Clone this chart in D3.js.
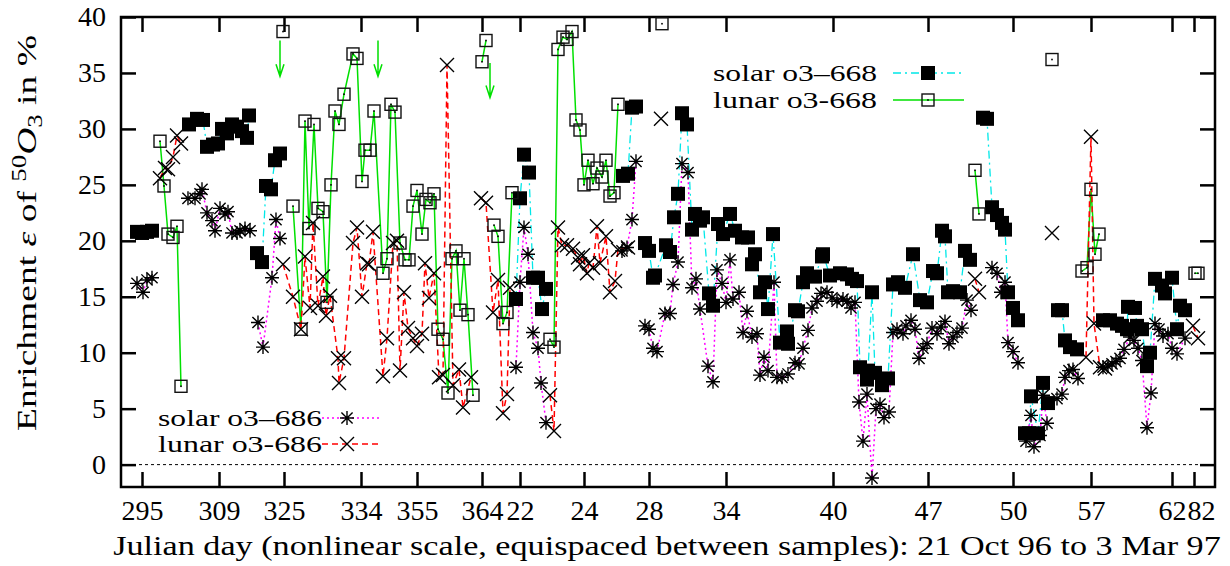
<!DOCTYPE html>
<html>
<head>
<meta charset="utf-8">
<script src="https://cdn.jsdelivr.net/npm/d3@7"></script>
<style>
  body { margin: 0; background: #fff; }
  svg { display: block; font-family: "Liberation Serif", serif; }
</style>
</head>
<body>
<div id="chart"></div>
<script>
const width = 1230;
const height = 566;
const margin = { left: 121, right: 15, top: 17, bottom: 79 };

// x axis is a sample counter (equispaced between samples), not days
const sampleCount = 273.5;
const tickSamples = [5.25, 24.5, 40.75, 60, 74, 90.25, 99.75, 115.75, 132, 151.25, 178, 201.75, 223, 242.5, 262.75, 268.25];
const tickLabels = ["295", "309", "325", "334", "355", "364", "22", "24", "28", "34", "40", "47", "50", "57", "62", "82"];
const yTicks = [0, 5, 10, 15, 20, 25, 30, 35, 40];

// [sample, enrichment %]; null = break in the line
const solar668 = [
  [4,20.8],[5.25,20.7],[6.5,20.8],[7.75,20.9], null,
  [17,30.4],[19,30.9],[20.5,30.8],[21.5,28.4],[23,28.6],[24.25,28.7],[25.25,30.0],[26.5,29.6],[27.75,30.4],[29,30.2],[30.25,29.8],[31.5,29.2],[32,31.2], null,
  [34,18.9],[35.25,18.1],[36.25,24.9],[37.5,24.6],[38.5,27.2],[39.75,27.8], null,
  [98.75,14.8],[99.75,23.8],[100.75,27.7],[102,26.1],[103,16.7],[104.25,16.7],[105.25,13.9],[106.25,15.7], null,
  [125.5,25.8],[126.75,26.0],[127.75,31.9],[128.75,32.0], null,
  [131,19.8],[132,19.1],[133,16.7],[133.5,16.9],[136.25,19.6],[137.25,19.0],[138.25,22.1],[139.25,24.2],[140.25,31.4],[141.5,30.4],
  [142.75,21.0],[143.5,22.4],[144.75,21.8],[145.5,22.1],[147,15.3],[148,14.2],[149.25,21.5],[150.5,20.6],[152.25,22.4],[153.5,20.9],
  [155.25,20.3],[156.75,20.3],[157.75,17.9],[158.5,18.8],[159.75,15.4],[161,16.3],[161.75,13.9],[163,20.6],[164.75,10.9],[166.5,11.9],
  [166.75,10.8],[168.5,13.8],[169.25,13.7],[170.5,16.3],[171.5,17.1],[173.5,16.8],[175.25,18.6],[175.5,18.8],[177.25,16.9],[179.75,17.1],
  [181.5,17.0],[182.75,16.6],[184,16.4],[184.75,8.7],[186.5,7.6],[186.75,8.4],[187.75,15.4],[188.5,8.2],[190.25,7.1],[191.75,7.7],
  [193,16.1],[194.25,16.3],[196,15.8],[198,18.8],[199.75,14.7],[201.5,14.5],[203,17.3],[204,17.1],[205.25,20.9],[206,20.4],
  [206.75,15.4],[208,15.5],[209.75,15.4],[211,19.1],[212.25,18.3], null,
  [215.5,31.0],[216.5,30.9],[217.75,23.0],[219,22.3],[220.25,21.6],[221,21.0],[221.75,15.4],[223,14.0],[224.25,12.9], null,
  [226,2.8],[227,2.8],[227.5,6.1],[229.25,2.8],[230.5,7.3],[231.75,5.5], null,
  [234.25,13.8],[235.25,13.8],[236,11.1],[237.25,10.5],[239,10.3], null,
  [245.5,12.9],[247.25,12.9],[249,12.6],[250.25,12.4],[251.5,12.1],[251.75,14.1],[253.5,14.0],[254,12.4],[255.25,12.1],[256.5,8.8],
  [257.25,10.0],[258.5,16.6],[260.25,16.0],[261,15.3],[262.75,16.7],[264,12.1],[264.75,14.2],[266,13.8]
];

const lunar668 = [
  [9.75,28.9],[10.75,24.9],[11.75,20.6],[13,20.3],[14,21.3],[15,7.0], null,
  [40.5,38.7], null,
  [43,23.1],[45,12.1],[46,30.7],[47,21.1],[48.25,30.4],[49.25,22.9],[50.5,22.6],[51.5,14.5],[52.5,25.0],[53.5,31.6],
  [54.5,30.4],[55.75,33.1],[58,36.7],[59,36.3],[60.25,25.3],[61,28.1],[62.25,28.1],[63.25,31.6],[65.5,17.1],[66.5,18.4],
  [67.5,32.2],[68.5,31.5],[69.75,19.8],[71,18.3],[72,18.3],[73,23.1],[74,24.5],[75.25,20.6],[76.25,23.7],[77.25,23.4],
  [78.25,24.2],[79.25,12.1],[80.5,11.2],[81.75,6.4],[82.75,18.4],[83.75,19.1],[84.75,13.8],[85.75,18.4],[86.75,13.4],[88,6.2], null,
  [90.25,36.0],[91.25,37.9], null,
  [93.25,21.4],[94.25,20.4],[95.5,12.6],[96.5,13.6],[97.75,24.3], null,
  [107.25,11.2],[108.25,10.5],[109.25,37.1],[110.5,38.2],[111.5,38.0],[112.75,38.7],[113.75,30.8],[114.75,29.9],[115.75,25.0],[116.75,27.2],
  [118,25.1],[119,26.5],[120.25,25.7],[121.25,27.2],[122.25,24.0],[123.25,24.3],[124.25,32.2], null,
  [135.25,39.4], null,
  [213.5,26.3],[214.5,22.4], null,
  [232.75,36.2], null,
  [240.25,17.3],[241.5,17.6],[242.5,24.6],[243.5,18.8],[244.5,20.6], null,
  [268.5,17.1],[269.25,17.1]
];

const solar686 = [
  [4,16.2],[5.5,15.4],[6.5,16.5],[7.75,16.7], null,
  [16.75,23.8],[18.5,23.8],[19.75,24.2],[20.25,24.6],[21.5,22.5],[22.75,21.8],[23.5,20.9],[24.75,22.9],[26,22.4],[26.75,22.6],
  [27.75,20.7],[29,20.7],[29.75,20.9],[31,21.1],[32.25,20.9], null,
  [34.25,12.7],[35.5,10.5],[37.75,16.7],[38.75,21.9],[39.75,20.2], null,
  [98.75,8.7],[99.75,16.3],[100.75,21.2],[101.75,18.8],[103,11.8],[104.25,10.4],[105,7.3],[106.25,3.75], null,
  [125.25,19.1],[126.5,19.4],[127.75,21.9],[128.75,27.1], null,
  [131,12.4],[132,12.1],[133,10.4],[134,10.1],[136,13.5],[137.25,13.5],[138,16.1],[139.25,18.1],[140.25,26.9],[141.75,26.1],
  [142.75,15.8],[143.75,16.6],[144.75,13.9],[146.75,8.8],[148,7.4],[149,17.4],[150.25,16.2],[151.25,14.5],[152.25,18.3],[153,14.8],
  [154.5,15.4],[155.5,11.8],[156.5,13.7],[157.75,11.4],[159,11.7],[159.75,8.0],[160.75,9.6],[161.75,8.4],[163.25,16.3],[164,7.8],
  [165.25,7.8],[166.75,8.1],[168.5,9.1],[169.5,9.0],[170.5,10.4],[171.75,12.0],[172.75,14.0],[174,14.6],[175,15.3],[176.5,15.4],
  [177.75,14.9],[179,14.6],[180.5,14.8],[181.5,14.6],[182.5,14.0],[183.5,14.5],[184.5,5.6],[185.5,2.1],[186.5,6.3],[187.75,-1.2],
  [188.75,5.0],[189.75,5.4],[190.75,4.2],[192,4.7],[193,11.8],[194,12.1],[195.5,11.7],[196.25,12.4],[197.5,12.9],[198.5,12.1],
  [199.5,9.5],[200.5,10.4],[201.5,10.8],[202.75,12.2],[204,11.7],[205,12.3],[206,12.8],[207,10.8],[208,11.4],[209,11.8],
  [210.25,12.2],[211.5,14.7],[212.5,13.8], null,
  [217.75,17.6],[219,17.1],[220,15.4],[221,16.3],[221.75,10.9],[223,10.1],[224.25,9.1], null,
  [226.25,2.1],[227.5,4.4],[228.25,1.6],[229.75,2.6],[230.5,6.2],[231.5,3.7], null,
  [234,5.9],[235.25,6.3],[236,7.8],[237,8.4],[238,8.5],[239.25,7.7], null,
  [245.5,8.7],[246.75,8.8],[247.75,9.0],[248.75,9.2],[249.75,9.5],[250.75,10.3],[252.25,11.4],[253.25,11.1],[254.25,10.4],[255.25,9.3],
  [256.5,3.3],[257.5,6.4],[258.5,12.6],[259.5,12.1],[260.5,11.5],[261.75,11.7],[262.75,10.4],[264,9.9],[266,11.3]
];

const lunar686 = [
  [9.75,25.6],[11,26.5],[11.75,26.4],[13,27.5],[14,29.4],[15,28.7], null,
  [40.5,17.9],[43,15.0],[45,12.1],[46,18.6],[47.25,14.0],[48,21.6],[49.25,14.2],[50.5,16.8],[51.25,13.3],[52.25,15.1],
  [54.25,9.5],[54.5,7.3],[55.75,9.5],[58,19.8],[59,21.2],[60.25,15.0],[61.5,18.0],[62,17.9],[63,20.8],[65.5,7.9],
  [66.5,11.3],[68,19.8],[69,20.0],[69.75,8.4],[70.75,15.4],[71.75,12.2],[73,11.3],[74,10.6],[75.25,11.7],[76,18.0],
  [77,14.9],[78.25,17.1],[79.5,7.8],[80.5,8.0],[81.5,35.7],[83,7.1],[84.5,8.5],[85.5,5.1],[87.5,7.8], null,
  [90,23.8],[91.25,23.4],[93,13.6],[94.25,16.5],[95.5,4.6],[96.5,6.3],[97.25,15.8], null,
  [107.25,6.2],[108.25,3.0],[109.25,21.2],[110.25,19.6],[111.5,19.6],[113,19.3],[114.25,18.5],[114.75,17.9],[115.5,18.7],[116.5,17.1],
  [117,18.0],[118,17.6],[119,21.3],[119.75,18.0],[121.25,20.4],[122.25,15.4],[123.5,16.4],[124.25,19.2],[126.75,19.4], null,
  [135,30.9], null,
  [213.5,16.6],[214.5,15.4], null,
  [232.75,20.7], null,
  [241.25,9.6],[242.5,29.3],[243.25,12.6],[244.75,8.7],[246,8.6], null,
  [268,12.4],[269.25,11.3]
];

// off-scale lunar values marked with arrows: [sample, from, to]
const arrows = [[39.75, 37.9, 34.7], [64.25, 37.9, 34.7], [92.25, 35.9, 32.8]];

const svg = d3.select("#chart")
  .append("svg")
  .attr("width", width)
  .attr("height", height);

const x = d3.scaleLinear()
  .domain([0, sampleCount])
  .range([margin.left, width - margin.right]);

const y = d3.scaleLinear()
  .domain([-2, 40])
  .range([height - margin.bottom, margin.top]);

const tickFont = 28;

// stretch a text horizontally so it spans the reference width
function fitWidth(sel, target, baseTransform) {
  const w = sel.node().getBBox().width;
  sel.attr("transform", `${baseTransform} scale(${target / w},1)`);
}

// zero line
svg.append("line")
  .attr("x1", x(0)).attr("x2", x(sampleCount))
  .attr("y1", y(0)).attr("y2", y(0))
  .attr("stroke", "#000")
  .attr("stroke-width", 1)
  .attr("stroke-dasharray", "3,3");

// axes, ticks pointing inwards
function styleAxis(g) {
  g.select(".domain").remove();
  g.selectAll(".tick line").attr("stroke", "#000").attr("stroke-width", 2.5);
  g.selectAll(".tick text").attr("fill", "#000").style("font-size", tickFont + "px")
    .style("font-family", "'Liberation Serif', serif");
}

const xAxis = svg.append("g")
  .attr("transform", `translate(0,${y(-2)})`)
  .call(d3.axisBottom(x).tickValues(tickSamples).tickFormat((d, i) => tickLabels[i])
    .tickSize(-15).tickSizeOuter(0).tickPadding(13))
  .call(styleAxis);

// last two labels sit tight together; nudge the last one right like the original
xAxis.selectAll(".tick text").filter((d, i) => i === tickLabels.length - 1).attr("dx", 7);

svg.append("g")
  .attr("transform", `translate(0,${y(40)})`)
  .call(d3.axisTop(x).tickValues(tickSamples).tickFormat("").tickSize(-15).tickSizeOuter(0))
  .call(styleAxis);

svg.append("g")
  .attr("transform", `translate(${x(0)},0)`)
  .call(d3.axisLeft(y).tickValues(yTicks).tickSize(-15).tickSizeOuter(0).tickPadding(15))
  .call(styleAxis);

svg.append("g")
  .attr("transform", `translate(${x(sampleCount)},0)`)
  .call(d3.axisRight(y).tickValues(yTicks).tickFormat("").tickSize(-15).tickSizeOuter(0))
  .call(styleAxis);

svg.append("rect")
  .attr("x", x(0)).attr("y", y(40))
  .attr("width", x(sampleCount) - x(0))
  .attr("height", y(-2) - y(40))
  .attr("fill", "none")
  .attr("stroke", "#000")
  .attr("stroke-width", 2.5);

// series styles
const series = [
  { name: "solar o3\u2013668", data: solar668, color: "#00e8e8", dash: "8,4,2,4", width: 1.3, mark: "filled" },
  { name: "lunar o3-668", data: lunar668, color: "#00e000", dash: null, width: 1.5, mark: "open" },
  { name: "solar o3\u2013686", data: solar686, color: "#ff00ff", dash: "2,3", width: 1.5, mark: "star" },
  { name: "lunar o3-686", data: lunar686, color: "#ff0000", dash: "6,4", width: 1.5, mark: "cross" }
];

const line = d3.line()
  .defined(d => d !== null)
  .x(d => x(d[0]))
  .y(d => y(d[1]));

series.forEach(s => {
  svg.append("path")
    .datum(s.data)
    .attr("d", line)
    .attr("fill", "none")
    .attr("stroke", s.color)
    .attr("stroke-width", s.width)
    .attr("stroke-dasharray", s.dash);
});

function markPath(type) {
  const r = 7, d = 5.6;
  if (type === "star") return `M${-r},0H${r}M0,${-r}V${r}M${-d},${-d}L${d},${d}M${-d},${d}L${d},${-d}`;
  if (type === "cross") return `M${-r},${-r}L${r},${r}M${-r},${r}L${r},${-r}`;
  return "";
}

function drawMark(g, type) {
  if (type === "filled") {
    g.append("rect").attr("x", -7).attr("y", -7).attr("width", 14).attr("height", 14).attr("fill", "#000");
  } else if (type === "open") {
    g.append("rect").attr("x", -6).attr("y", -6).attr("width", 12).attr("height", 12)
      .attr("fill", "none").attr("stroke", "#111").attr("stroke-width", 1.4);
    g.append("rect").attr("x", -0.8).attr("y", -0.8).attr("width", 1.6).attr("height", 1.6).attr("fill", "#000");
  } else {
    g.append("path").attr("d", markPath(type)).attr("stroke", "#000").attr("stroke-width", 1.4).attr("fill", "none");
  }
}

series.forEach(s => {
  svg.append("g")
    .selectAll("g")
    .data(s.data.filter(d => d !== null))
    .join("g")
    .attr("transform", d => `translate(${x(d[0])},${y(d[1])})`)
    .each(function() { drawMark(d3.select(this), s.mark); });
});

// arrows for off-scale values
arrows.forEach(a => {
  const ax = x(a[0]), y0 = y(a[1]), y1 = y(a[2]);
  svg.append("path")
    .attr("d", `M${ax},${y0}V${y1}M${ax - 4},${y1 - 12}L${ax},${y1}L${ax + 4},${y1 - 12}`)
    .attr("fill", "none")
    .attr("stroke", "#00e000")
    .attr("stroke-width", 1.5);
});

// legends
function legendRow(textX, cy, s, x1, x2, mx) {
  const t = svg.append("text")
    .attr("text-anchor", "end")
    .style("font-size", "24px")
    .text(s.name);
  fitWidth(t, 164, `translate(${textX},${cy + 8})`);
  svg.append("line")
    .attr("x1", x1).attr("x2", x2).attr("y1", cy).attr("y2", cy)
    .attr("stroke", s.color).attr("stroke-width", s.width)
    .attr("stroke-dasharray", s.dash);
  drawMark(svg.append("g").attr("transform", `translate(${mx},${cy})`), s.mark);
}

legendRow(877, 73, series[0], 893, 962, 928);
legendRow(877, 100, series[1], 893, 964, 928);
legendRow(322, 418, series[2], 322, 382, 347);
legendRow(322, 444, series[3], 322, 382, 347);

// axis titles
const xlab = svg.append("text")
  .attr("text-anchor", "middle")
  .style("font-size", "28px")
  .text("Julian day (nonlinear scale, equispaced between samples): 21 Oct 96 to 3 Mar 97");
fitWidth(xlab, 1108, "translate(667,555)");

const ylab = svg.append("text")
  .attr("text-anchor", "middle")
  .style("font-size", "28px");
ylab.append("tspan").text("Enrichment ");
ylab.append("tspan").style("font-style", "italic").text("\u03b5");
ylab.append("tspan").text(" of ");
ylab.append("tspan").attr("dy", -10).style("font-size", "20px").text("50");
ylab.append("tspan").attr("dy", 10).style("font-style", "italic").text("O");
ylab.append("tspan").attr("dy", 6).style("font-size", "20px").text("3");
ylab.append("tspan").attr("dy", -6).text(" in %");
fitWidth(ylab, 396, "translate(36,233) rotate(-90)");
</script>
</body>
</html>
